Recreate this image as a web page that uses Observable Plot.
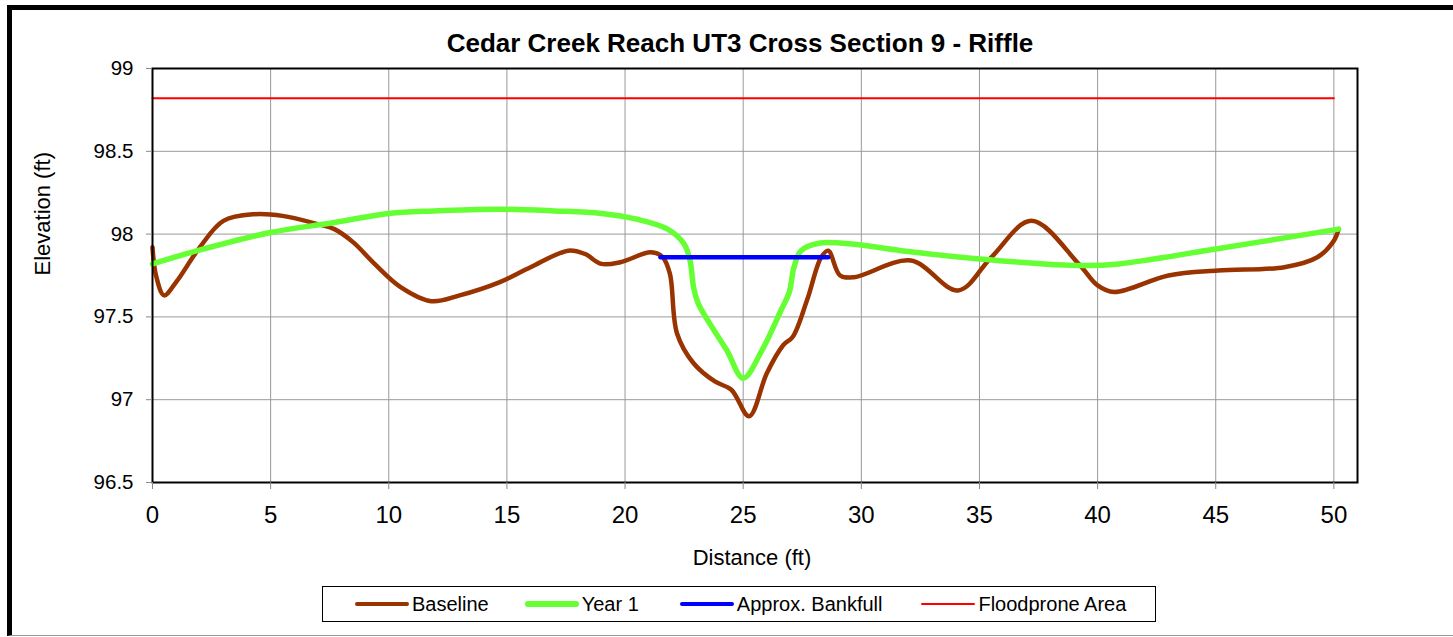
<!DOCTYPE html>
<html>
<head>
<meta charset="utf-8">
<script src="https://cdn.jsdelivr.net/npm/d3@7"></script>
<script src="https://cdn.jsdelivr.net/npm/@observablehq/plot@0.6"></script>
<style>
  body { margin: 0; background: #fff; }
  #wrap { position: relative; width: 1453px; height: 637px; overflow: hidden; background: #fff; font-family: "Liberation Sans", Arial, sans-serif; }
  #frame { position: absolute; left: 7px; top: 5px; width: 1480px; height: 625px; border-left: 5px solid #000; border-top: 5px solid #000; border-bottom: 1px solid #999; }
  #title { position: absolute; left: 0; top: 30px; width: 1480px; text-align: center; font-size: 26px; font-weight: bold; line-height: 1; color: #000; }
  #chart { position: absolute; left: 0; top: 0; }
  #legend { position: absolute; left: 322px; top: 586px; width: 834px; height: 36px; border: 1px solid #000; display: flex; flex-wrap: nowrap; align-items: center; padding-left: 32px; box-sizing: border-box; font-size: 20px; color: #000; white-space: nowrap; }
  .item { display: flex; flex: 0 0 auto; align-items: center; margin-right: 36px; white-space: nowrap; }
  .item:nth-child(2) { margin-right: 41px; }
  .item:nth-child(3) { margin-right: 39px; }
  .swatch { width: 54px; flex: 0 0 auto; border-radius: 3px; margin-right: 3px; }
</style>
</head>
<body>
<div id="wrap">
  <div id="frame"></div>
  <div id="chart"></div>
  <div id="title"></div>
  <div id="legend"></div>
</div>
<script>
const titleText = "Cedar Creek Reach UT3 Cross Section 9 - Riffle";
const xLabel = "Distance (ft)";
const yLabel = "Elevation (ft)";
const xTicks = [0, 5, 10, 15, 20, 25, 30, 35, 40, 45, 50];
const yTicks = [96.5, 97, 97.5, 98, 98.5, 99];

const seriesNames = ["Baseline", "Year 1", "Approx. Bankfull", "Floodprone Area"];
const seriesColors = ["#993300", "#66FF33", "#0000FF", "#FF0000"];
const seriesWidths = [4.5, 5.5, 4.5, 2];

const baselineX = [0, 0.15, 0.49, 1.0, 2.0, 3.0, 4.3, 5.5, 7.0, 7.7, 8.5, 9.4, 10.5, 11.8, 13.0, 14.7, 16.0, 17.6, 18.3, 19.0, 19.8, 21.1, 21.6, 21.9, 22.2, 22.9, 23.8, 24.5, 25.25, 26.0, 26.7, 27.1, 27.7, 28.3, 28.6, 29.1, 29.7, 32.1, 34.1, 35.5, 37.2, 39.2, 40.0, 40.7, 43.0, 45.1, 47.9, 49.3, 50.0, 50.2];
const baselineY = [97.92, 97.75, 97.63, 97.71, 97.92, 98.08, 98.12, 98.11, 98.06, 98.03, 97.95, 97.82, 97.68, 97.595, 97.63, 97.71, 97.80, 97.90, 97.88, 97.82, 97.83, 97.89, 97.86, 97.76, 97.40, 97.22, 97.11, 97.06, 96.90, 97.16, 97.33, 97.38, 97.60, 97.86, 97.90, 97.75, 97.74, 97.84, 97.66, 97.86, 98.08, 97.82, 97.69, 97.65, 97.75, 97.78, 97.80, 97.86, 97.96, 98.03];

const year1X = [0, 1.9, 5.0, 7.7, 10.0, 11.9, 14.7, 17.0, 19.0, 20.5, 21.8, 22.5, 22.75, 22.9, 23.1, 24.3, 25.0, 25.8, 26.6, 26.95, 27.15, 27.45, 28.2, 29.6, 31.7, 35.0, 39.4, 40.9, 45.0, 50.2];
const year1Y = [97.82, 97.90, 98.01, 98.07, 98.125, 98.14, 98.15, 98.14, 98.125, 98.09, 98.03, 97.94, 97.84, 97.68, 97.58, 97.30, 97.13, 97.30, 97.54, 97.65, 97.80, 97.90, 97.945, 97.94, 97.90, 97.85, 97.81, 97.82, 97.91, 98.03];

const bankfullX = [21.5, 28.6];
const bankfullY = [97.86, 97.86];

const floodX = [0, 50];
const floodY = [98.82, 98.82];

const toRows = (xs, ys) => xs.map((x, i) => ({x, y: ys[i]}));
const baseline = toRows(baselineX, baselineY);
const year1 = toRows(year1X, year1Y);
const bankfull = toRows(bankfullX, bankfullY);
const flood = toRows(floodX, floodY);

const chart = Plot.plot({
  width: 1453,
  height: 637,
  marginLeft: 152,
  marginRight: 96,
  marginTop: 68,
  marginBottom: 155,
  x: {domain: [0, 51]},
  y: {domain: [96.5, 99]},
  style: {fontFamily: "'Liberation Sans', Arial, sans-serif", background: "transparent", color: "#000"},
  marks: [
    Plot.gridX(xTicks, {stroke: "#999", strokeOpacity: 1, strokeWidth: 1}),
    Plot.gridY(yTicks, {stroke: "#999", strokeOpacity: 1, strokeWidth: 1}),
    Plot.line(flood, {x: "x", y: "y", stroke: seriesColors[3], strokeWidth: seriesWidths[3]}),
    Plot.line(baseline, {x: "x", y: "y", stroke: seriesColors[0], strokeWidth: seriesWidths[0], curve: "catmull-rom"}),
    Plot.line(year1, {x: "x", y: "y", stroke: seriesColors[1], strokeWidth: seriesWidths[1], curve: "catmull-rom"}),
    Plot.line(bankfull, {x: "x", y: "y", stroke: seriesColors[2], strokeWidth: seriesWidths[2]}),
    Plot.frame({stroke: "#000", strokeWidth: 2}),
    Plot.axisX(xTicks, {tickSize: 7, tickPadding: 16, fontSize: 24, stroke: "#888", fill: "#000", label: null, tickFormat: d => String(d)}),
    Plot.axisY(yTicks, {tickSize: 6, tickPadding: 13, fontSize: 20.5, stroke: "#888", fill: "#000", label: null, tickFormat: d => String(d)}),
    Plot.text([xLabel], {text: d => d, frameAnchor: "bottom", dx: -3, dy: 82, fontSize: 22, fill: "#000"}),
    Plot.text([yLabel], {text: d => d, frameAnchor: "left", dx: -110, rotate: -90, fontSize: 22, fill: "#000"})
  ]
});
document.getElementById("chart").appendChild(chart);
document.getElementById("title").textContent = titleText;

const legend = document.getElementById("legend");
seriesNames.forEach((name, i) => {
  const item = document.createElement("div");
  item.className = "item";
  const sw = document.createElement("div");
  sw.className = "swatch";
  sw.style.height = seriesWidths[i] + "px";
  sw.style.background = seriesColors[i];
  const label = document.createElement("span");
  label.textContent = name;
  item.appendChild(sw);
  item.appendChild(label);
  legend.appendChild(item);
});
</script>
</body>
</html>
